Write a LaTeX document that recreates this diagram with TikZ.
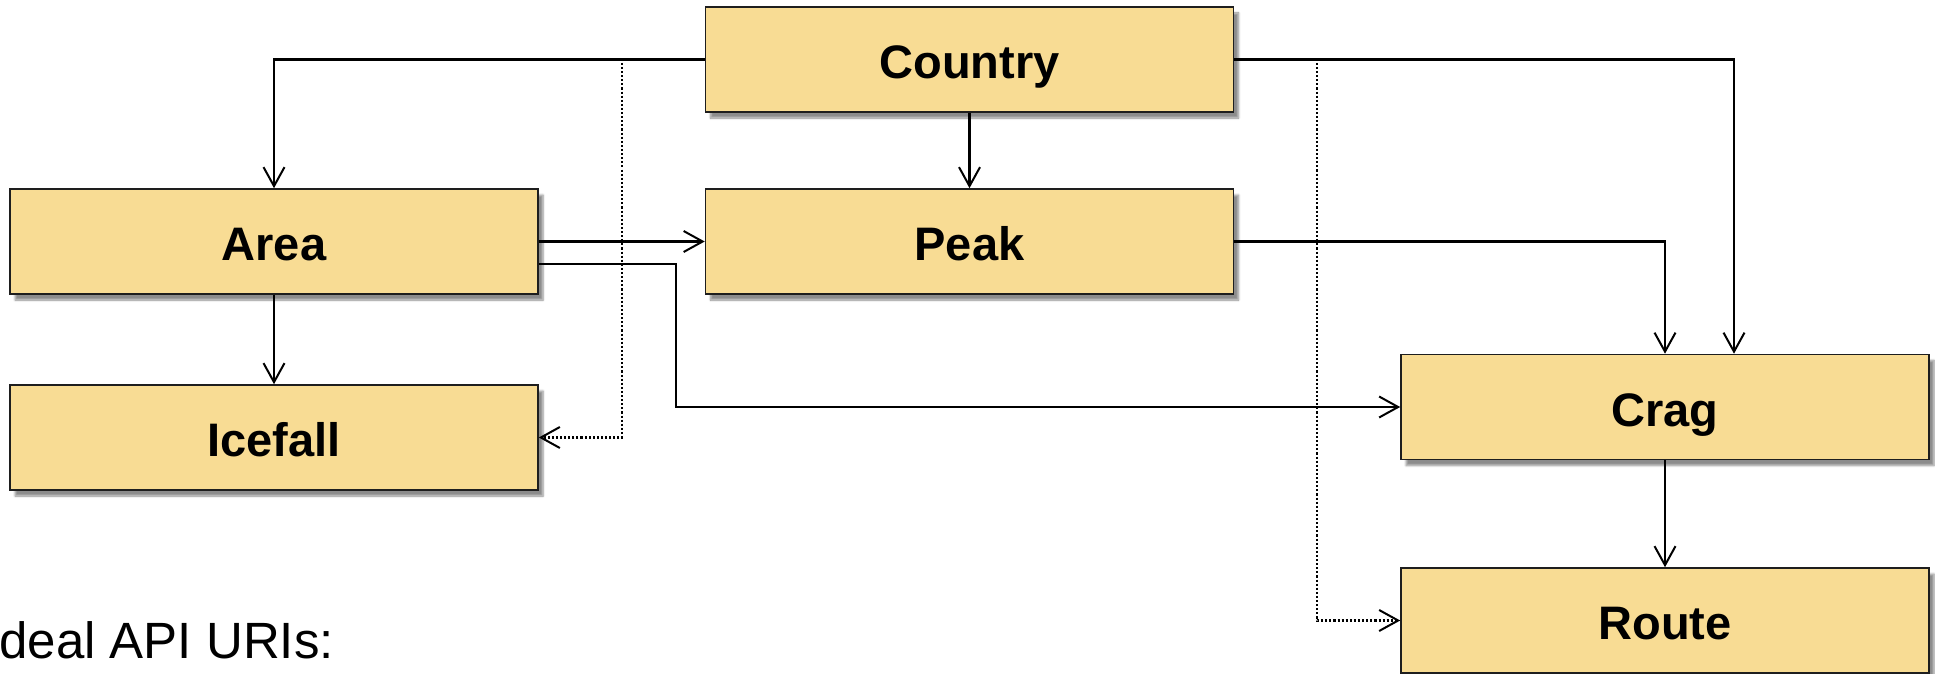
\documentclass[tikz,border=0pt]{standalone}
\usepackage{fontspec}
\setmainfont{Liberation Sans}
\usetikzlibrary{arrows.meta,shadows.blur,calc}
\definecolor{boxfill}{RGB}{248,220,148}
\definecolor{boxline}{RGB}{30,30,30}
\begin{document}
\begin{tikzpicture}[x=1pt,y=-1pt,
  entity/.style={rectangle, draw=boxline, line width=1.6pt, fill=boxfill,
    minimum width=528pt, minimum height=105pt, inner sep=0pt,
    text height=38pt, text depth=0pt,
    font=\fontsize{47}{56}\selectfont\bfseries,
    blur shadow={shadow xshift=5pt, shadow yshift=-6pt, shadow blur steps=6, shadow opacity=45}},
  conn/.style={line width=2.1pt, -{Straight Barb[length=19pt,width=21pt,line width=2pt]}},
  dotconn/.style={conn, dotted}]
\useasboundingbox (0,0) rectangle (1935,674);

\node[entity] (country) at (969.5,59.5) {Country};
\node[entity] (area)    at (274,241.5)  {Area};
\node[entity] (peak)    at (969.5,241.5){Peak};
\node[entity] (icefall) at (274,437.5)  {Icefall};
\node[entity] (crag)    at (1665,407)   {Crag};
\node[entity] (route)   at (1665,620.5) {Route};

% routing columns
\coordinate (acbend) at (676,0);
\coordinate (dotL) at (622,0);
\coordinate (dotR) at (1317,0);

% dotted references
\draw[dotconn] (country.west) -| (dotL |- icefall.east) -- (icefall.east);
\draw[dotconn] (country.east) -| (dotR |- route.west) -- (route.west);

% containment links
\draw[conn] (country.west) -| (area.north);
\draw[conn] (country.south) -- (peak.north);
\draw[conn] (country.east) -| ([xshift=69pt]crag.north);
\draw[conn] (peak.east) -| (crag.north);
\draw[conn] (area.east) -- (peak.west);
\draw[conn] ([yshift=-22.5pt]area.east) -| (acbend |- crag.west) -- (crag.west);
\draw[conn] (area.south) -- (icefall.north);
\draw[conn] (crag.south) -- (route.north);

\node[anchor=base west, inner sep=0pt, font=\fontsize{51}{60}\selectfont] (caption) at (-15,658) {Ideal API URIs:};
\end{tikzpicture}
\end{document}
